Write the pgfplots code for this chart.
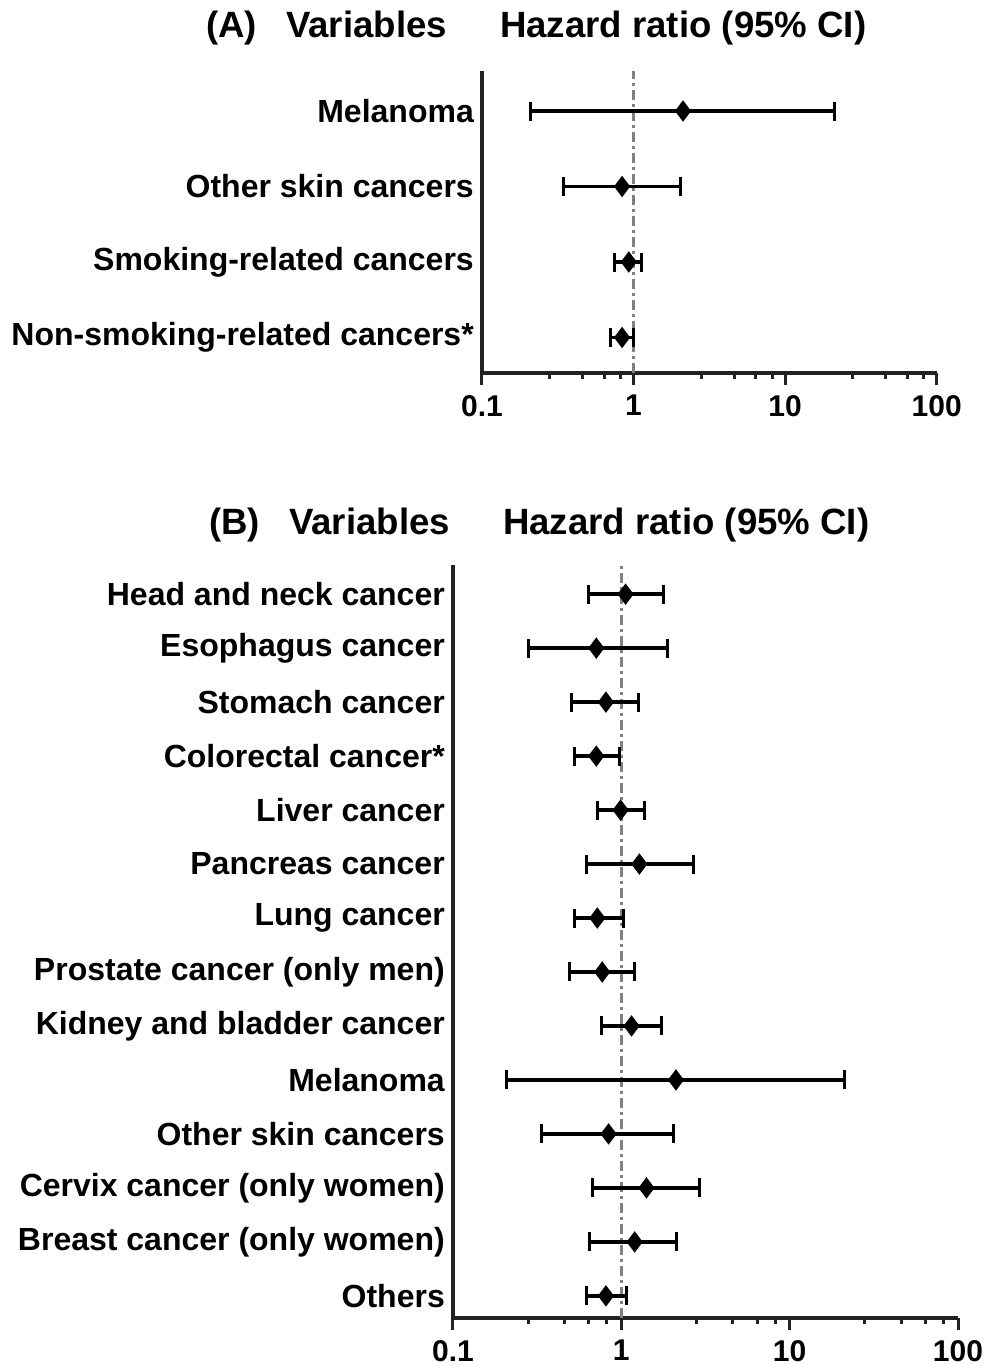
\documentclass[border=0pt]{standalone}
\usepackage{fontspec}
\setmainfont{Liberation Sans}
\usepackage{pgfplots}
\pgfplotsset{compat=1.18}
\usepackage{pgfplotstable}

\pgfplotstableread{
row lo hr hi
4 0.21 2.12 21.3
3 0.345 0.84 2.04
2 0.75 0.93 1.12
1 0.705 0.84 1.00
}\dataA

\pgfplotstableread{
row lo hr hi
14 0.64 1.06 1.79
13 0.279 0.71 1.88
12 0.505 0.81 1.27
11 0.527 0.71 0.98
10 0.72 0.99 1.38
9 0.625 1.28 2.69
8 0.527 0.72 1.03
7 0.49 0.77 1.20
6 0.76 1.15 1.73
5 0.209 2.11 21.3
4 0.337 0.84 2.03
3 0.67 1.41 2.90
2 0.65 1.20 2.13
1 0.62 0.81 1.08
}\dataB

\definecolor{axisgray}{HTML}{222222}
\definecolor{refgray}{HTML}{808080}

\begin{document}
\begin{tikzpicture}
\path[use as bounding box] (0pt,0pt) rectangle (985pt,1366pt);

\begin{axis}[at={(482pt,993pt)}, anchor=south west,
  width=454.7pt, height=302pt, ymin=0.53, ymax=4.53,
  xmin=-1, xmax=2, scale only axis, clip=false,
  axis x line=bottom, axis y line=left,
  axis line style={-, line width=3.5pt, axisgray},
  xtick={-1,0,1,2}, xticklabels={0.1,1,10,100},
  minor xtick={-0.5528,-0.3372,-0.1938,-0.0862,0.4472,0.6628,0.8062,0.9138,1.4472,1.6628,1.8062,1.9138},
  tick align=outside, major tick length=12pt, minor tick length=6pt,
  xtick style={line width=3pt, axisgray},
  ytick style={draw=none},
  xticklabel style={font=\fontsize{30}{36}\selectfont\bfseries, inner sep=0pt, yshift=-10pt},
  yticklabel style={font=\fontsize{32}{38}\selectfont\bfseries, inner sep=0pt, xshift=4pt, anchor=east},
  ytick={1,2,3,4},
  yticklabels={Non-smoking-related cancers*,Smoking-related cancers,Other skin cancers,Melanoma}]
\draw[refgray, line width=3pt, dash pattern=on 10pt off 4pt on 3pt off 4pt] (axis cs:0,0.53) -- (axis cs:0,4.53);
\addplot[only marks, black, line width=3pt, mark=diamond*, mark size=9.5pt,
  mark options={solid, fill=black, line width=1.5pt},
  error bars/x dir=both, error bars/x explicit,
  error bars/error bar style={line width=3.5pt, black, solid},
  error bars/error mark options={line width=3pt, mark size=9.5pt, rotate=90, black}]
  table[x expr={log10(\thisrow{hr})}, y=row,
  x error plus expr={log10(\thisrow{hi})-log10(\thisrow{hr})},
  x error minus expr={log10(\thisrow{hr})-log10(\thisrow{lo})}] {\dataA};
\end{axis}

\begin{axis}[at={(453pt,48pt)}, anchor=south west,
  width=505pt, height=753pt, ymin=0.59, ymax=14.54,
  xmin=-1, xmax=2, scale only axis, clip=false,
  axis x line=bottom, axis y line=left,
  axis line style={-, line width=3.5pt, axisgray},
  xtick={-1,0,1,2}, xticklabels={0.1,1,10,100},
  minor xtick={-0.5528,-0.3372,-0.1938,-0.0862,0.4472,0.6628,0.8062,0.9138,1.4472,1.6628,1.8062,1.9138},
  tick align=outside, major tick length=12pt, minor tick length=6pt,
  xtick style={line width=3pt, axisgray},
  ytick style={draw=none},
  xticklabel style={font=\fontsize{30}{36}\selectfont\bfseries, inner sep=0pt, yshift=-10pt},
  yticklabel style={font=\fontsize{32}{38}\selectfont\bfseries, inner sep=0pt, xshift=4pt, anchor=east},
  ytick={1,...,14},
  yticklabels={Others,Breast cancer (only women),Cervix cancer (only women),Other skin cancers,Melanoma,Kidney and bladder cancer,Prostate cancer (only men),Lung cancer,Pancreas cancer,Liver cancer,Colorectal cancer*,Stomach cancer,Esophagus cancer,Head and neck cancer}]
\draw[refgray, line width=3pt, dash pattern=on 10pt off 4pt on 3pt off 4pt] (axis cs:0,0.59) -- (axis cs:0,14.54);
\addplot[only marks, black, line width=3pt, mark=diamond*, mark size=9.5pt,
  mark options={solid, fill=black, line width=1.5pt},
  error bars/x dir=both, error bars/x explicit,
  error bars/error bar style={line width=3.5pt, black, solid},
  error bars/error mark options={line width=3pt, mark size=9.5pt, rotate=90, black}]
  table[x expr={log10(\thisrow{hr})}, y=row,
  x error plus expr={log10(\thisrow{hi})-log10(\thisrow{hr})},
  x error minus expr={log10(\thisrow{hr})-log10(\thisrow{lo})}] {\dataB};
\end{axis}

\begin{scope}[every node/.style={anchor=base west, inner sep=0pt, font=\fontsize{36.6}{42}\selectfont\bfseries}]
\node at (206pt,1328.7pt) {(A)};
\node at (286pt,1328.7pt) {Variables};
\node at (500pt,1328.7pt) {Hazard ratio (95\% CI)};
\node at (209pt,831.7pt) {(B)};
\node at (289pt,831.7pt) {Variables};
\node at (503pt,831.7pt) {Hazard ratio (95\% CI)};
\end{scope}
\end{tikzpicture}
\end{document}
